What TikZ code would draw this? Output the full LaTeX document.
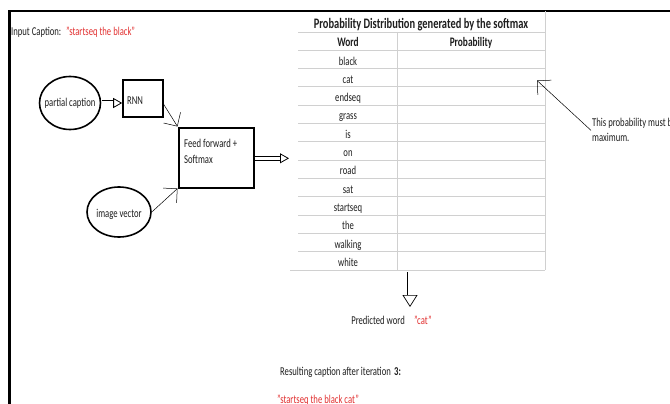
\documentclass[tikz,border=0pt]{standalone}
\usepackage{fontspec}
\setmainfont[FakeStretch=0.72]{Carlito}
\usetikzlibrary{arrows.meta,calc,shapes.geometric}
\definecolor{capred}{RGB}{226,48,48}
\definecolor{gridgray}{RGB}{208,208,208}
\definecolor{ink}{RGB}{30,30,30}

\begin{document}
\begin{tikzpicture}[x=1pt,y=-1pt,
  lbl/.style={inner sep=0pt, font=\fontsize{12}{16}\selectfont, text=ink},
  redlbl/.style={lbl, text=capred},
  boldlbl/.style={lbl, font=\fontsize{13}{16}\selectfont\bfseries},
  bubble/.style={draw, ellipse, line width=1.6pt, inner sep=0pt},
  block/.style={draw, rectangle, inner sep=0pt},
  feed/.style={line width=0.5pt, -{Straight Barb[length=10pt,width=20pt,line width=0.5pt]}},
  hollow/.style={double, double distance=3.4pt, line width=0.8pt,
    -{Triangle[open,length=9pt,width=10pt,line width=0.8pt]}},
  rulegrid/.style={draw=gridgray, line width=0.8pt},
  cell/.style={lbl, anchor=base},
]
\useasboundingbox (0,0) rectangle (670,404);
\clip (0,0) rectangle (670,404);
\fill[white] (0,0) rectangle (670,404);

% page frame
\draw[line width=2.4pt] (670,11) -- (9.5,11) -- (9.5,404);

% input caption
\node[lbl, anchor=base west] (inlab) at (11,36) {Input Caption:};
\node[redlbl, anchor=base west] (incap) at (66,35.5) {"startseq the black"};

% network blocks
\node[bubble, minimum width=61pt, minimum height=53pt] (pc) at (70,103) {};
\node[lbl] (pctxt) at (70,103) {partial caption};
\node[block, line width=1.6pt, minimum width=40pt, minimum height=37pt] (rnn) at (143,98.5) {};
\node[lbl, anchor=base west] (rnntxt) at (127,104) {RNN};
\node[block, line width=2pt, minimum width=75pt, minimum height=60pt] (ff) at (216,157.5) {};
\node[lbl, anchor=base west, align=left] (fftxt) at (184,163.3) {Feed forward +\\Softmax};
\node[bubble, minimum width=64pt, minimum height=50pt] (iv) at (119,212) {};
\node[lbl] (ivtxt) at (119,214) {image vector};

\coordinate (tblin) at (289,158.3);

\draw[hollow] ([xshift=1pt]pc.east) -- (pc.east -| rnn.west);
\draw[feed] ([yshift=-6pt]rnn.east) -- (ff.north west);
\draw[feed] (iv.east) -- (ff.south west);
\draw[hollow] (ff.east |- tblin) -- (tblin);

% probability table
\node[lbl, font=\fontsize{14.5}{16}\selectfont\bfseries, anchor=base] (ttl) at (421,28.5)
  {Probability Distribution generated by the softmax};
\foreach \k in {0,...,12}
  \draw[rulegrid] (298,{32+18.3*\k}) -- (545,{32+18.3*\k});
\draw[rulegrid] (290,269.9) -- (545,269.9);
\draw[rulegrid] (397,32) -- (397,269.9);
\draw[rulegrid] (545,11) -- (545,269.9);
\node[boldlbl, anchor=base] (hword) at (348,46.5) {Word};
\node[boldlbl, anchor=base] (hprob) at (471,46.5) {Probability};
\foreach \w [count=\i] in {black,cat,endseq,grass,is,on,road,sat,startseq,the,walking,white}
  \node[cell] (w\i) at (348,{32+18.3*(\i+1)-3.5}) {\w};

% note on the winning probability
\coordinate (catp) at (537,80.5);
\node[lbl, anchor=base west, align=left, font=\fontsize{12}{15}\selectfont] (note) at (592,142)
  {This probability must b\\maximum.};
\draw[feed] ([xshift=-1pt]note.west) -- (catp);

% prediction
\coordinate (dtop) at (410,272);
\coordinate (dbot) at (410,307);
\draw[double, double distance=5pt, line width=0.7pt,
  -{Triangle[open,length=12pt,width=15pt,line width=0.7pt]}] (dtop) -- (dbot);
\node[lbl, anchor=base east] (pred) at (405,324) {Predicted word};
\node[redlbl, anchor=base west] (predw) at (414,324) {"cat"};

% result
\node[lbl, anchor=base west] (res) at (280,375) {Resulting caption after iteration};
\node[lbl, anchor=base west, font=\fontsize{12}{16}\selectfont\bfseries] (iter) at (394,375) {3:};
\node[redlbl, anchor=base west] (rescap) at (277,403) {"startseq the black cat"};
\end{tikzpicture}
\end{document}
